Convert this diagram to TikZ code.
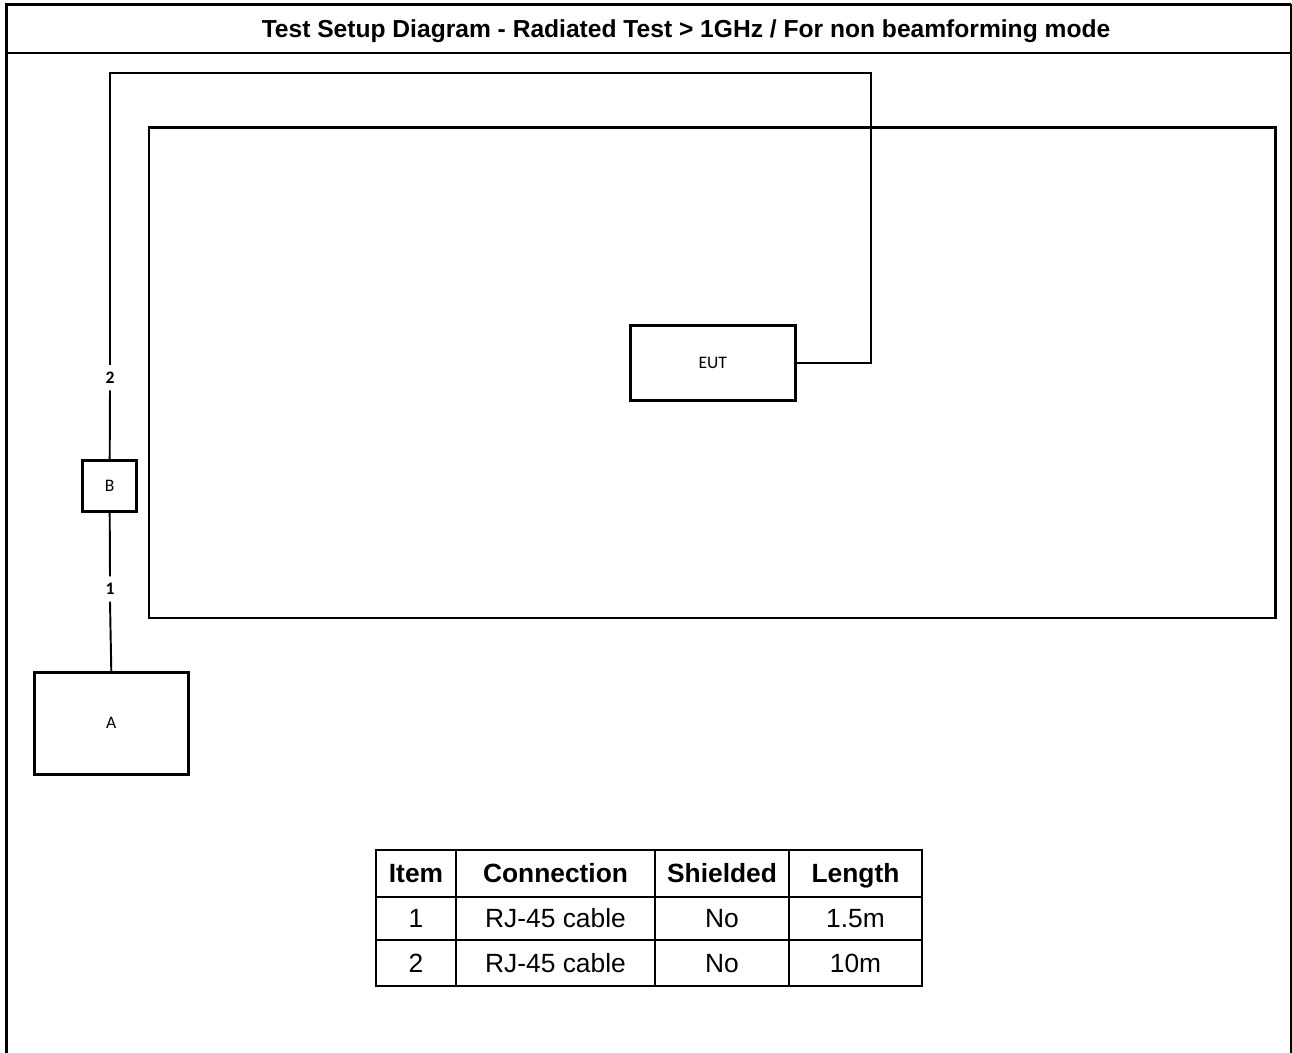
\documentclass[tikz,border=0pt]{standalone}
\usepackage{fontspec}
\setmainfont{Liberation Sans}
\newfontfamily\calib{Carlito}
\begin{document}
\begin{tikzpicture}[x=0.02cm,y=-0.02cm,
  box/.style={draw,line width=1.7pt,rectangle,inner sep=0pt,font=\calib\fontsize{10}{12}\selectfont},
  cable/.style={line width=1.1pt},
  lbl/.style={inner xsep=1pt,inner ysep=3.8pt,font=\calib\bfseries\fontsize{10}{12}\selectfont},
  cell/.style={font=\fontsize{15}{17}\selectfont,inner sep=0pt,anchor=base},
  hcell/.style={cell,font=\bfseries\fontsize{15}{17}\selectfont}]
\useasboundingbox (0,0) rectangle (1292,1053);
% frame
\draw[line width=2pt] (6.5,1060) -- (6.5,4.5) -- (1291,4.5);
\draw[line width=0.9pt] (1291,4.5) -- (1291,1060);
\draw[line width=1.4pt] (6.5,53) -- (1291,53);
\node[font=\bfseries\fontsize{14}{16}\selectfont] (title) at (686,31) {Test Setup Diagram - Radiated Test > 1GHz / For non beamforming mode};
% chamber
\draw[line width=1.7pt] (149,128) rectangle (1275,618);
% boxes
\node[box,minimum width=3.29cm,minimum height=1.49cm] (eut) at (712.8,362.8) {EUT};
\node[box,minimum width=1.08cm,minimum height=1.02cm] (b) at (109.7,486.2) {B};
\node[box,minimum width=3.08cm,minimum height=2.03cm] (a) at (111.3,723.3) {A};
% labels
\node[lbl] (l2) at (110,377.5) {2};
\node[lbl] (l1) at (110,589) {1};
\coordinate (c1) at (871,72.7);
\coordinate (c2) at (110,72.7);
% cables
\draw[cable] (eut.east) -| (c1) -- (c2) -- (l2.north);
\draw[cable] (l2.south) -- (b.north);
\draw[cable] (b.south) -- (l1.north);
\draw[cable] (l1.south) -- (a.north);
% table
\draw[line width=1.1pt] (376,850) rectangle (922,986);
\draw[line width=0.9pt] (376,897) -- (922,897) (376,940) -- (922,940)
  (456,850) -- (456,986) (655,850) -- (655,986) (789,850) -- (789,986);
\node[hcell] (h1) at (416,883) {Item};
\node[hcell] (h2) at (555.5,883) {Connection};
\node[hcell] (h3) at (722,883) {Shielded};
\node[hcell] (h4) at (855.5,883) {Length};
\node[cell] (r11) at (416,928) {1};
\node[cell] (r12) at (555.5,928) {RJ-45 cable};
\node[cell] (r13) at (722,928) {No};
\node[cell] (r14) at (855.5,928) {1.5m};
\node[cell] (r21) at (416,972.5) {2};
\node[cell] (r22) at (555.5,972.5) {RJ-45 cable};
\node[cell] (r23) at (722,972.5) {No};
\node[cell] (r24) at (855.5,972.5) {10m};
\end{tikzpicture}
\end{document}
